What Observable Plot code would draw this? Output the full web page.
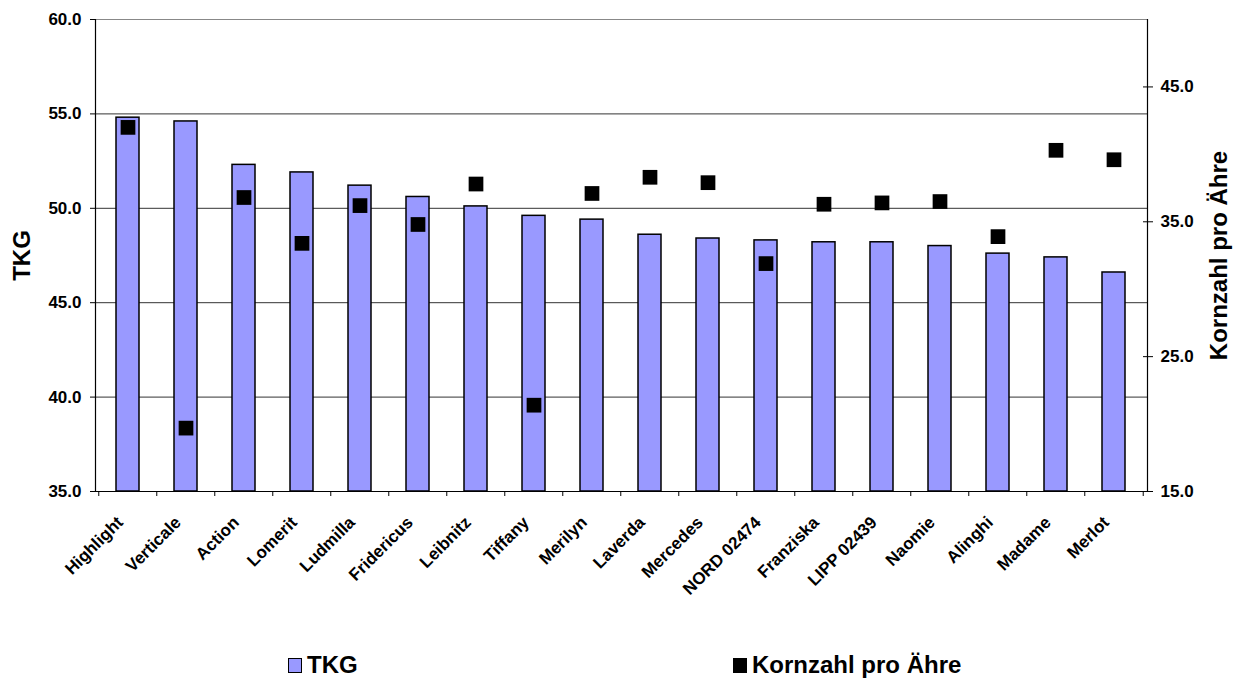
<!DOCTYPE html>
<html>
<head>
<meta charset="utf-8">
<script src="https://cdn.jsdelivr.net/npm/d3@7"></script>
<script src="https://cdn.jsdelivr.net/npm/@observablehq/plot@0.6"></script>
<style>
  html, body { margin: 0; padding: 0; background: #fff; }
  #wrap { position: relative; width: 1236px; height: 679px; overflow: hidden; font-family: "Liberation Sans", Arial, sans-serif; }
  .leg { position: absolute; top: 651px; font-weight: bold; font-size: 24px; line-height: 28px; display: flex; align-items: center; }
  .sw { display: inline-block; width: 14px; height: 15px; margin-right: 5px; box-sizing: border-box; }
</style>
</head>
<body>
<div id="wrap"></div>
<script>
const names = ["Highlight","Verticale","Action","Lomerit","Ludmilla","Fridericus","Leibnitz","Tiffany","Merilyn","Laverda","Mercedes","NORD 02474","Franziska","LIPP 02439","Naomie","Alinghi","Madame","Merlot"];
const tkg = [54.8,54.6,52.3,51.9,51.2,50.6,50.1,49.6,49.4,48.6,48.4,48.3,48.2,48.2,48.0,47.6,47.4,46.6];
const korn = [42.0,19.7,36.8,33.4,36.2,34.8,37.8,21.4,37.1,38.3,37.9,31.9,36.3,36.4,36.5,33.9,40.3,39.6];
const leftDomain = [35, 60];
const rightDomain = [15, 50];
const leftTicks = [35, 40, 45, 50, 55, 60];
const rightTicks = [15, 25, 35, 45];
const seriesNames = ["TKG", "Kornzahl pro Ähre"];

const data = names.map((n, i) => ({name: n, tkg: tkg[i], korn: korn[i]}));
const toLeft = k => leftDomain[0] + (k - rightDomain[0]) * (leftDomain[1] - leftDomain[0]) / (rightDomain[1] - rightDomain[0]);
const fromLeft = v => rightDomain[0] + (v - leftDomain[0]) * (rightDomain[1] - rightDomain[0]) / (leftDomain[1] - leftDomain[0]);

const W = 1236, H = 630, mL = 95, mR = 89, mT = 19, mB = 139;
const step = (W - mL - mR) / names.length;
const font = "'Liberation Sans', Arial, sans-serif";

const chart = Plot.plot({
  width: W, height: H,
  marginTop: mT, marginBottom: mB, marginLeft: mL, marginRight: mR,
  style: {fontFamily: font, background: "white", overflow: "visible", color: "#000"},
  x: {domain: names, paddingInner: 0.6, paddingOuter: 0.3, axis: null},
  y: {domain: leftDomain, axis: null},
  marks: [
    Plot.ruleY(leftTicks.slice(1, -1), {stroke: "#333", strokeWidth: 1}),
    Plot.ruleY([leftDomain[1]], {stroke: "#888", strokeWidth: 1}),
    Plot.barY(data, {x: "name", y1: () => leftDomain[0], y2: "tkg", fill: "#9999FF", stroke: "#000", strokeWidth: 1.5}),
    Plot.dot(data, {x: "name", y: d => toLeft(d.korn), symbol: "square", r: 8.3, fill: "#000", stroke: "none"}),
    Plot.ruleY([leftDomain[0]], {stroke: "#000", strokeWidth: 1.2}),
    Plot.frame({anchor: "left", stroke: "#000", strokeWidth: 1.2}),
    Plot.frame({anchor: "right", stroke: "#000", strokeWidth: 1.2}),
    Plot.ruleX(names, {x: d => d, dx: -step / 2, y1: () => leftDomain[0], y2: () => leftDomain[0], insetBottom: -5, stroke: "#000"}),
    Plot.ruleX(names.slice(-1), {x: d => d, dx: step / 2, y1: () => leftDomain[0], y2: () => leftDomain[0], insetBottom: -5, stroke: "#000"}),
    Plot.axisY({anchor: "left", ticks: leftTicks, tickFormat: d => d.toFixed(1), tickSize: 5, tickPadding: 9, fontSize: 17, fontWeight: "bold", label: null}),
    Plot.axisY({anchor: "right", ticks: rightTicks.map(toLeft), tickFormat: v => fromLeft(v).toFixed(1), tickSize: 5, tickPadding: 8, fontSize: 17, fontWeight: "bold", label: null}),
    Plot.axisY({anchor: "right", ticks: rightTicks.map(toLeft), tickFormat: () => "", tickSize: -5, label: null}),
    Plot.text(data, {x: "name", y: () => leftDomain[0], text: "name", rotate: -45, textAnchor: "end", lineAnchor: "bottom", dx: -4, dy: 32, fontSize: 17, fontWeight: "bold", fill: "#000"}),
    Plot.text([seriesNames[0]], {frameAnchor: "left", textAnchor: "middle", dx: -73, rotate: -90, fontSize: 24, fontWeight: "bold"}),
    Plot.text([seriesNames[1]], {frameAnchor: "right", textAnchor: "middle", dx: 72, rotate: -90, fontSize: 24, fontWeight: "bold"})
  ]
});

const wrap = document.getElementById("wrap");
wrap.appendChild(chart);

const l1 = document.createElement("div");
l1.className = "leg"; l1.style.left = "288px";
l1.innerHTML = `<span class="sw" style="background:#9999FF;border:1.5px solid #000"></span>${seriesNames[0]}`;
const l2 = document.createElement("div");
l2.className = "leg"; l2.style.left = "733px";
l2.innerHTML = `<span class="sw" style="background:#000"></span>${seriesNames[1]}`;
wrap.appendChild(l1); wrap.appendChild(l2);
</script>
</body>
</html>
